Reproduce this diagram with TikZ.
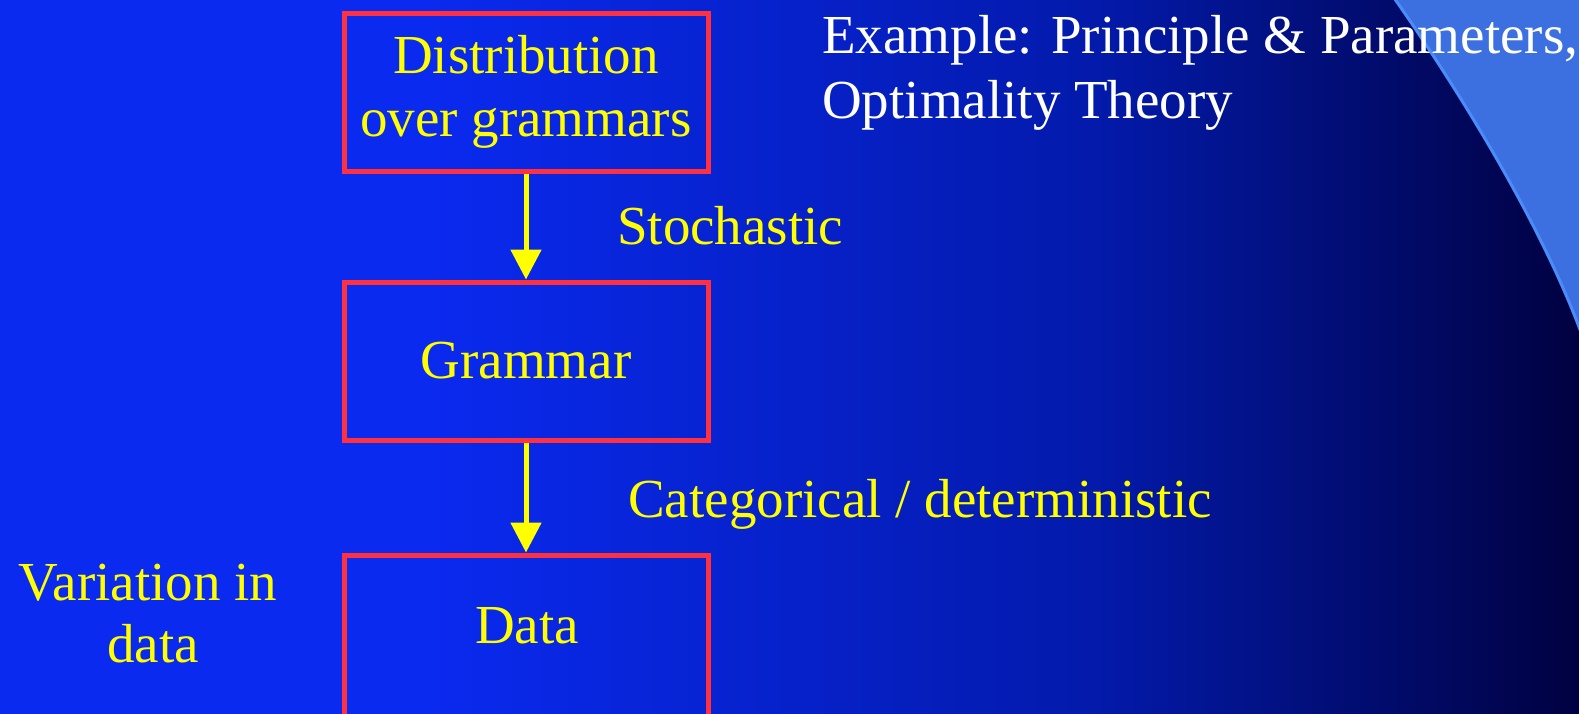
\documentclass[tikz,border=0pt]{standalone}
\usepackage{fontspec}
\setmainfont{Liberation Serif}
\usetikzlibrary{arrows.meta}
\definecolor{bgblue}{RGB}{10,42,240}
\definecolor{bgmid}{RGB}{3,26,170}
\definecolor{bgdark}{RGB}{0,0,60}
\definecolor{arcblue}{RGB}{60,112,224}
\definecolor{arcedge}{RGB}{74,140,250}
\definecolor{boxred}{RGB}{255,48,64}
\definecolor{txtyellow}{RGB}{255,255,0}
\tikzset{
  stagebox/.style={draw=boxred, line width=5pt, minimum width=364pt, minimum height=158pt, inner sep=0pt, align=center, text=txtyellow, font=\fontsize{55}{63}\selectfont},
  flowarrow/.style={draw=txtyellow, line width=5pt, -{Triangle[length=30pt,width=30pt]}},
  ylabel/.style={text=txtyellow, font=\fontsize{55}{63}\selectfont, inner sep=0pt},
  wlabel/.style={text=white, font=\fontsize{55}{63}\selectfont, inner sep=0pt, align=left}
}
\begin{document}
\begin{tikzpicture}[x=1pt,y=-1pt]
\useasboundingbox (0,0) rectangle (1579,713);
\begin{scope}
\clip (0,0) rectangle (1579,713);
\fill[bgblue] (-20,-20) rectangle (1600,740);
\shade[left color=bgblue, right color=bgmid] (418,-20) rectangle (1101,740);
\shade[left color=bgmid, right color=bgdark] (1099,-20) rectangle (1600,740);
\fill[arcblue] (1392,-5) .. controls (1452,80) and (1540,220) .. (1582,335) -- (1600,-20) -- cycle;
\draw[arcedge, line width=3pt] (1392,-5) .. controls (1452,80) and (1540,220) .. (1582,335);

\node[stagebox] (dist) at (526,92) {Distribution\\over grammars};
\node[stagebox] (gram) at (526,361) {Grammar};
\node[stagebox, minimum height=200pt] (data) at (526,655) {};
\node[ylabel, anchor=base] (datatxt) at (527,643) {Data};

\draw[flowarrow] (dist.south) -- (gram.north);
\draw[flowarrow] (gram.south) -- (data.north);

\node[ylabel, anchor=base west] (stoch) at (617,244) {Stochastic};
\node[ylabel, anchor=base west] (cat) at (628,517) {Categorical / deterministic};
\node[ylabel, anchor=base] (var) at (148,600) {Variation in};
\node[ylabel, anchor=base] (vardata) at (153,662) {data};
\node[wlabel, anchor=base west] (ex1) at (822,53) {Example: Principle \& Parameters,};
\node[wlabel, anchor=base west] (ex2) at (822,118) {Optimality Theory};
\end{scope}
\end{tikzpicture}
\end{document}
